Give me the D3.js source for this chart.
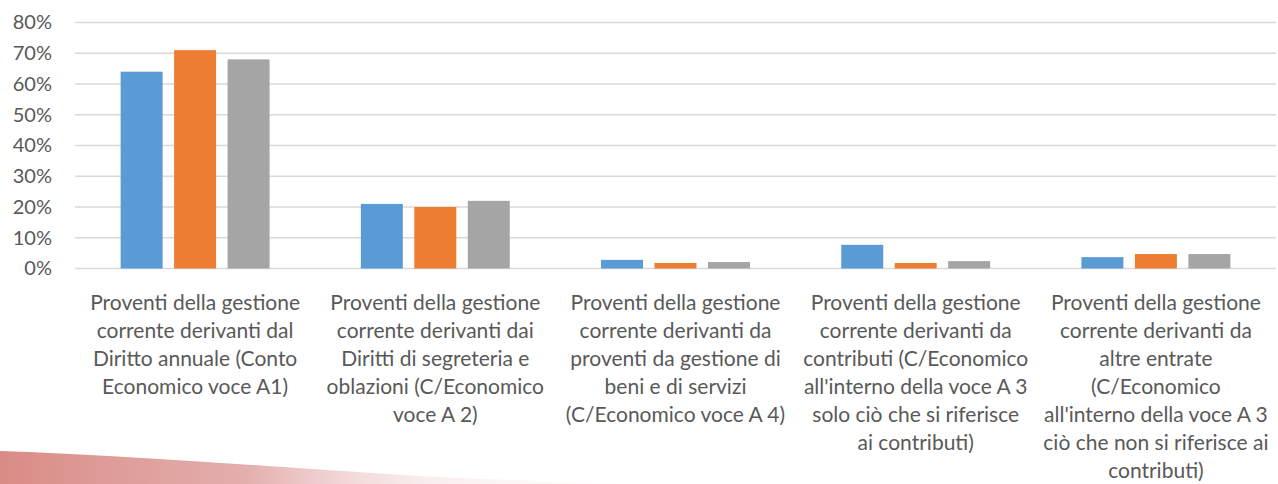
<!DOCTYPE html>
<html>
<head>
<meta charset="utf-8">
<script src="https://cdn.jsdelivr.net/npm/d3@7/dist/d3.min.js"></script>
<style>
  body { margin: 0; background: #fff; }
  svg { display: block; }
  text { font-family: Lato, "Open Sans", sans-serif; fill: #595959; }
</style>
</head>
<body>
<svg width="1278" height="484"></svg>
<script>
// category labels, already broken into lines like the original
var categories = [
    ["Proventi della gestione", "corrente derivanti dal", "Diritto annuale (Conto", "Economico voce A1)"],
    ["Proventi della gestione", "corrente derivanti dai", "Diritti di segreteria e", "oblazioni (C/Economico", "voce A 2)"],
    ["Proventi della gestione", "corrente derivanti da", "proventi da gestione di", "beni e di servizi", "(C/Economico voce A 4)"],
    ["Proventi della gestione", "corrente derivanti da", "contributi (C/Economico", "all'interno della voce A 3", "solo ciò che si riferisce", "ai contributi)"],
    ["Proventi della gestione", "corrente derivanti da", "altre entrate", "(C/Economico", "all'interno della voce A 3", "ciò che non si riferisce ai", "contributi)"]
];
var seriesA = [0.64, 0.21, 0.028, 0.077, 0.037];
var seriesB = [0.71, 0.20, 0.018, 0.018, 0.047];
var seriesC = [0.68, 0.22, 0.021, 0.024, 0.047];
var yTicks = [0, 0.1, 0.2, 0.3, 0.4, 0.5, 0.6, 0.7, 0.8];

var colors = ["#5B9BD5", "#ED7D31", "#A5A5A5"];
var series = [seriesA, seriesB, seriesC];

var svg = d3.select("svg"),
    margin = {top: 22.5, right: 2, bottom: 215.5, left: 75},
    width = +svg.attr("width") - margin.left - margin.right,
    height = +svg.attr("height") - margin.top - margin.bottom;

// decorative swoosh at the bottom left
var defs = svg.append("defs");
var grad = defs.append("linearGradient").attr("id", "swoosh")
    .attr("x1", "0").attr("x2", "1").attr("y1", "0").attr("y2", "0");
grad.append("stop").attr("offset", "0").attr("stop-color", "#d8857f").attr("stop-opacity", 0.95);
grad.append("stop").attr("offset", "0.35").attr("stop-color", "#dc9a98").attr("stop-opacity", 0.8);
grad.append("stop").attr("offset", "0.6").attr("stop-color", "#f0d0d0").attr("stop-opacity", 0.4);
grad.append("stop").attr("offset", "1").attr("stop-color", "#ffffff").attr("stop-opacity", 0);
svg.append("path")
    .attr("d", "M0,451 C120,455 260,466 420,476 C520,481 600,483 700,484 L0,484 Z")
    .attr("fill", "url(#swoosh)");

var g = svg.append("g").attr("transform", "translate(" + margin.left + "," + margin.top + ")");

var y = d3.scaleLinear().domain([0, 0.8]).range([height, 0]);

var x0 = d3.scaleBand()
    .domain(d3.range(categories.length))
    .range([0, width]);

var groupW = x0.bandwidth() * 0.62;
var x1 = d3.scaleBand()
    .domain(d3.range(series.length))
    .range([(x0.bandwidth() - groupW) / 2, (x0.bandwidth() + groupW) / 2])
    .paddingInner(0.215);

// gridlines
g.selectAll(".grid")
    .data(yTicks)
  .enter().append("line")
    .attr("class", "grid")
    .attr("x1", 0).attr("x2", width)
    .attr("y1", function(d) { return y(d); })
    .attr("y2", function(d) { return y(d); })
    .attr("stroke", "#d9d9d9")
    .attr("stroke-width", 1.3);

// y axis labels
var yAxis = d3.axisLeft(y)
    .tickValues(yTicks)
    .tickFormat(d3.format(".0%"))
    .tickSize(0)
    .tickPadding(23);
var ya = g.append("g").call(yAxis);
ya.select(".domain").remove();
ya.selectAll("text")
    .style("font-size", "20px")
    .attr("fill", "#595959");

// bars
var groups = g.selectAll(".cat")
    .data(categories)
  .enter().append("g")
    .attr("class", "cat")
    .attr("transform", function(d, i) { return "translate(" + x0(i) + ",0)"; });

groups.selectAll("rect")
    .data(function(d, i) { return series.map(function(s, j) { return {s: j, v: s[i]}; }); })
  .enter().append("rect")
    .attr("x", function(d) { return x1(d.s); })
    .attr("width", x1.bandwidth())
    .attr("y", function(d) { return y(d.v); })
    .attr("height", function(d) { return height - y(d.v); })
    .attr("fill", function(d) { return colors[d.s]; });

// category labels
var labels = g.selectAll(".lab")
    .data(categories)
  .enter().append("text")
    .attr("class", "lab")
    .attr("text-anchor", "middle")
    .attr("transform", function(d, i) { return "translate(" + (x0(i) + x0.bandwidth() / 2) + "," + (height + 41.5) + ")"; })
    .style("font-size", "21px");

labels.selectAll("tspan")
    .data(function(d) { return d; })
  .enter().append("tspan")
    .attr("x", 0)
    .attr("y", function(d, i) { return i * 28; })
    .text(function(d) { return d; });
</script>
</body>
</html>
